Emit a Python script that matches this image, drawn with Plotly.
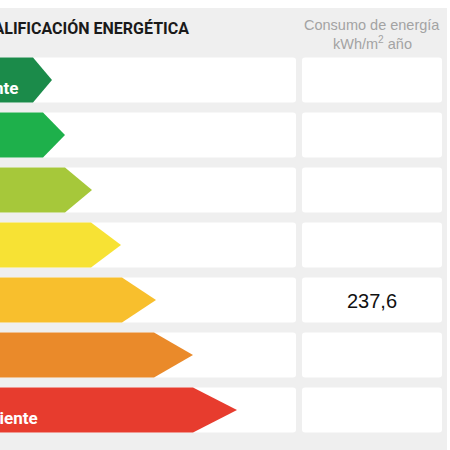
import plotly.graph_objects as go

# ---- data ----
categories = ["A", "B", "C", "D", "E", "F", "G"]
arrow_tip = [52, 65, 92, 121, 156, 193, 237]      # x of arrow point
arrow_neck = [33, 43, 65, 91, 122, 154, 193]      # x where the point starts
arrow_colors = ["#1b8b4a", "#1eb04b", "#a6c83a", "#f7e234",
                "#f8bf2d", "#ea8a2a", "#e73c2e"]
end_labels = ["Más eficiente", "", "", "", "", "", "Menos eficiente"]
label_right = [21, None, None, None, None, None, 40]
consumption = [None, None, None, None, 237.6, None, None]
title_left = "CALIFICACIÓN ENERGÉTICA"
title_right = ["Consumo de energía", "kWh/m<sup>2</sup> año"]

# ---- layout constants ----
ROW0, STEP, ROWH = 57.5, 55, 45


def rrect(x0, y0, x1, y1, r=3):
    return (f"M{x0+r},{y0} L{x1-r},{y0} Q{x1},{y0} {x1},{y0+r} "
            f"L{x1},{y1-r} Q{x1},{y1} {x1-r},{y1} L{x0+r},{y1} "
            f"Q{x0},{y1} {x0},{y1-r} L{x0},{y0+r} Q{x0},{y0} {x0+r},{y0} Z")


fig = go.Figure()
shapes = [dict(type="rect", x0=-10, x1=447, y0=8, y1=460, layer="below",
               fillcolor="#efefef", line=dict(width=0))]
annotations = []

for i, cat in enumerate(categories):
    top = ROW0 + i * STEP
    bot = top + ROWH
    mid = (top + bot) / 2
    shapes.append(dict(type="path", path=rrect(-10, top, 296, bot), layer="below",
                       fillcolor="#ffffff", line=dict(width=0)))
    shapes.append(dict(type="path", path=rrect(302, top, 442, bot), layer="below",
                       fillcolor="#ffffff", line=dict(width=0)))
    fig.add_trace(go.Scatter(
        x=[-10, arrow_neck[i], arrow_tip[i], arrow_neck[i], -10, -10],
        y=[top, top, mid, bot, bot, top],
        fill="toself", fillcolor=arrow_colors[i], mode="lines",
        line=dict(width=0, color=arrow_colors[i]), hoverinfo="skip",
        showlegend=False, name=cat))
    if end_labels[i]:
        annotations.append(dict(
            x=label_right[i], y=mid + 7.5,
            xref="x", yref="y", text=f"<b>{end_labels[i]}</b>",
            showarrow=False, xanchor="right", yanchor="middle",
            font=dict(family="Roboto", size=17, color="#ffffff")))
    if consumption[i] is not None:
        annotations.append(dict(
            x=372, y=mid + 1, xref="x", yref="y",
            text=f"{consumption[i]:.1f}".replace(".", ","),
            showarrow=False, xanchor="center", yanchor="middle",
            font=dict(family="Liberation Sans", size=20, color="#111111")))

annotations.append(dict(x=191, y=28, xref="x", yref="y", text=f"<b>{title_left}</b>",
                        showarrow=False, xanchor="right", yanchor="middle",
                        font=dict(family="Roboto", size=16, color="#1a1a1a")))
for j, t in enumerate(title_right):
    annotations.append(dict(x=372, y=25 + 18 * j, xref="x", yref="y", text=t,
                            showarrow=False, xanchor="center", yanchor="middle",
                            font=dict(family="Liberation Sans", size=14.5,
                                      color="#a3a3a3")))

fig.update_layout(
    width=450, height=450, margin=dict(l=0, r=0, t=0, b=0),
    paper_bgcolor="#ffffff", plot_bgcolor="#ffffff",
    xaxis=dict(range=[0, 450], visible=False, fixedrange=True),
    yaxis=dict(range=[450, 0], visible=False, fixedrange=True),
    shapes=shapes, annotations=annotations, showlegend=False,
)

fig.write_html("out.html", config={"displayModeBar": False},
               post_script="document.body.style.margin='0';"
                           "document.body.style.overflow='hidden';")
